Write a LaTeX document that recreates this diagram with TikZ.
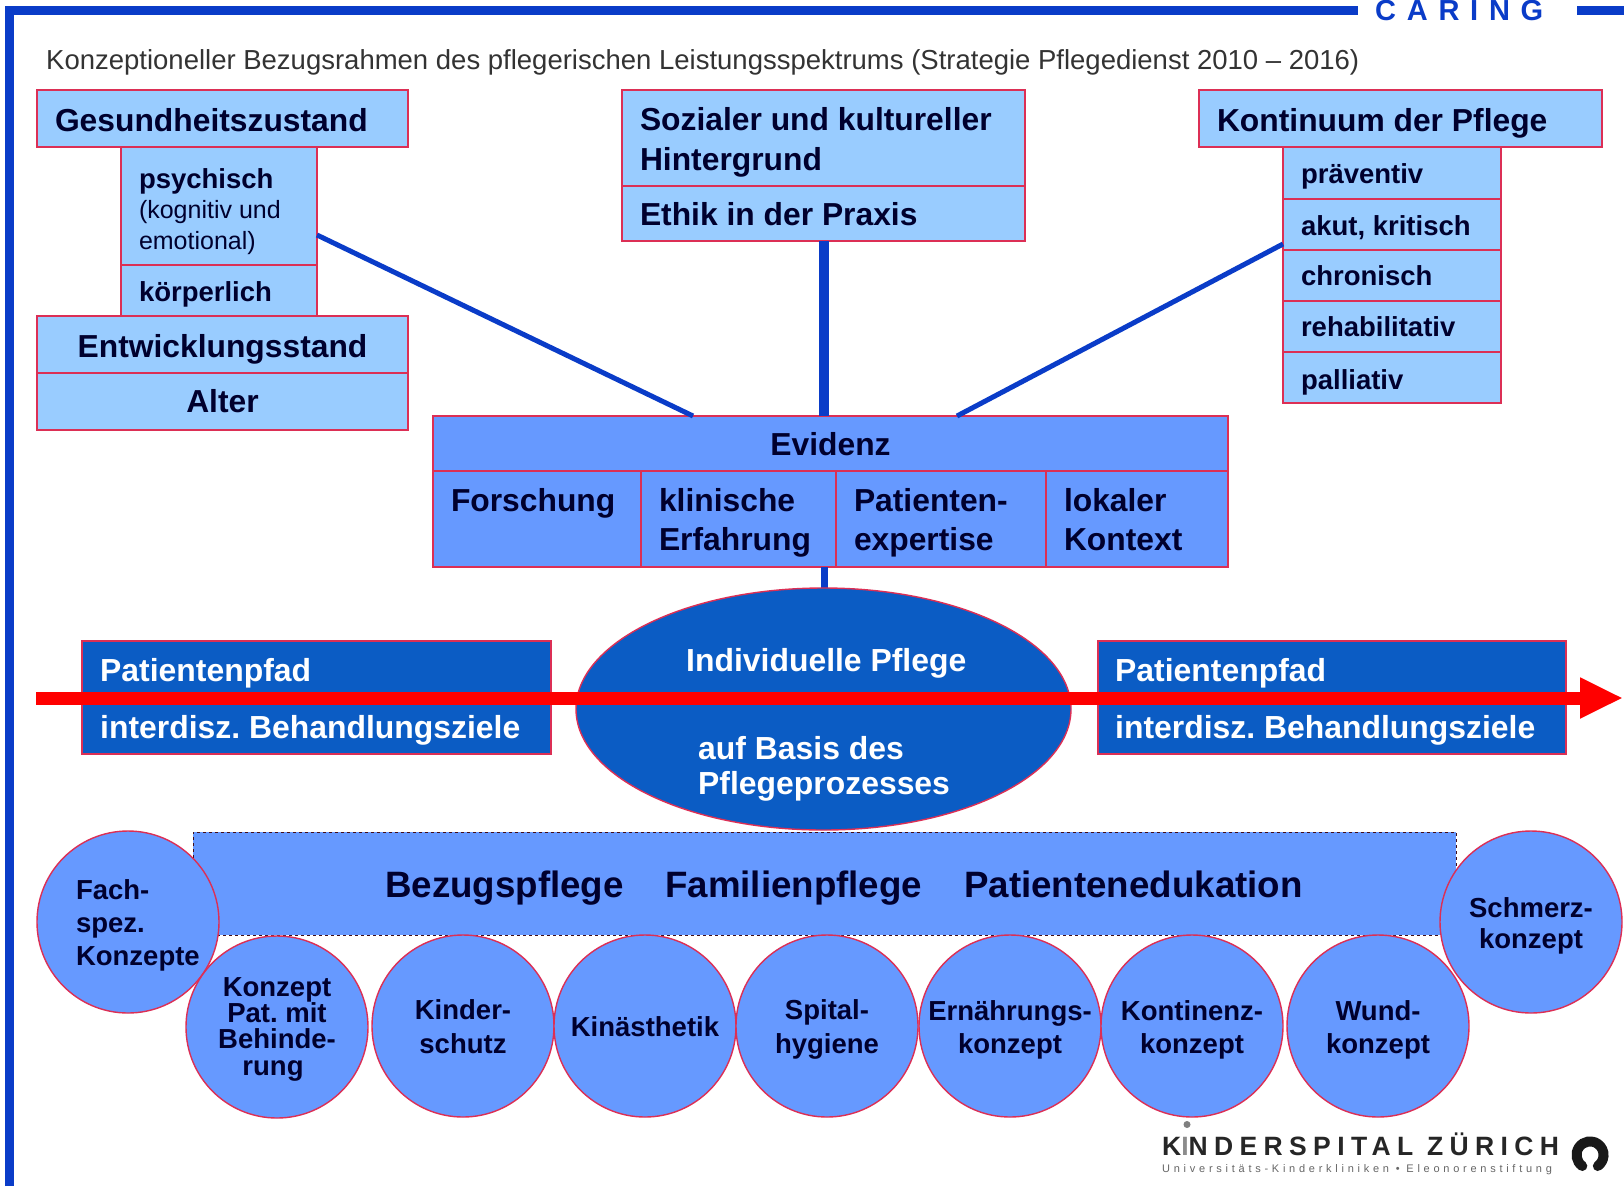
\documentclass[tikz,border=0pt]{standalone}
\usepackage{fontspec}
\setmainfont{Liberation Sans}
\usetikzlibrary{arrows.meta,shapes.geometric}
\definecolor{lightb}{HTML}{99CCFF}
\definecolor{midb}{HTML}{6699FF}
\definecolor{darkb}{HTML}{0B5CC4}
\definecolor{redl}{HTML}{DC2F55}
\definecolor{frameb}{HTML}{0A3CC8}
\definecolor{txt}{HTML}{00002E}
\frenchspacing
\newcommand{\fs}[1]{\fontsize{#1}{#1}\selectfont}
% first-line strut: baseline of first line at centre+#1, #2 = distance first to last baseline
\newcommand{\st}[2]{\rule[-7pt]{0pt}{\dimexpr 2\dimexpr #1pt\relax + #2pt + 14pt\relax}}
\newcommand{\en}{\rule[-7pt]{0pt}{0pt}}
\tikzset{
 x=1pt,y=-1pt,
 boxbase/.style={draw=redl,line width=1.4pt,align=flush left,text=txt,font=\fs{31.8}\bfseries,inner ysep=0pt},
 lightbox/.style={boxbase,fill=lightb},
 midbox/.style={boxbase,fill=midb},
 darkbox/.style={boxbase,fill=darkb},
 circ/.style={circle,draw=redl,line width=1.4pt,fill=midb,minimum size=182pt,inner sep=0pt,align=flush center,text=txt,font=\fs{27.5}\bfseries,text width=166pt},
 link/.style={draw=frameb,line width=5pt},
 whitetxt/.style={text=white,font=\fs{31.9}\bfseries,inner sep=0pt,anchor=base west},
 bandtxt/.style={text=txt,font=\fs{36.7}\bfseries,inner sep=0pt,anchor=base west},
}
\newcommand{\rb}[7]{% style,name,x1,y1,x2,y2,text; left pad 18
 \pgfmathsetmacro{\cx}{(#3+#5)/2}\pgfmathsetmacro{\cy}{(#4+#6)/2}
 \pgfmathsetmacro{\ww}{#5-#3}\pgfmathsetmacro{\hh}{#6-#4}\pgfmathsetmacro{\tw}{\ww-36}
 \node[#1,minimum width=\ww pt,minimum height=\hh pt,text width=\tw pt,inner xsep=18pt] (#2) at (\cx,\cy) {#7};
}
\begin{document}
\begin{tikzpicture}
\path[use as bounding box] (0,0) rectangle (1624,1186);
\fill[white] (0,0) rectangle (1624,1186);
% frame
\coordinate (ftl) at (9,10);
\coordinate (fbl) at (9,1186);
\coordinate (ftr) at (1358,10);
\coordinate (fr1) at (1577,10);
\coordinate (fr2) at (1624,10);
\draw[frameb,line width=9pt] (fbl) -- (ftl) -- (ftr);
\draw[frameb,line width=9pt] (fr1) -- (fr2);
\node[inner sep=0pt,anchor=base west,text=frameb,font=\fs{29}\bfseries\addfontfeatures{LetterSpace=37}] (caring) at (1375,20) {CARING};
\node[inner sep=0pt,anchor=base west,text=black!80,font=\fs{27.5}] (title) at (46,69) {Konzeptioneller Bezugsrahmen des pflegerischen Leistungsspektrums (Strategie Pflegedienst 2010 – 2016)};
% connector ends
\coordinate (cL1) at (317,235);
\coordinate (cL2) at (693,416);
\coordinate (cR1) at (1283,244);
\coordinate (cR2) at (957,416);
\coordinate (cM1) at (824,241);
\coordinate (cM2) at (824,416);
\coordinate (cE1) at (824,567);
\coordinate (cE2) at (824,590);
% left group
\rb{lightbox}{gz}{37}{90}{408}{147}{\st{12.5}{0}Gesundheitszustand}
\rb{lightbox}{psy}{121}{147}{317}{265}{\rule{0pt}{33pt}\fs{27.5}psychisch\\[4.8pt]\fs{25}\mdseries (kognitiv und\\[-1.2pt]\en\fs{25}\mdseries emotional)}
\rb{lightbox}{kor}{121}{265}{317}{316}{\st{10.5}{0}\fs{27.5}körperlich}
\rb{lightbox,align=flush center}{ent}{37}{316}{408}{373}{\st{12.5}{0}Entwicklungsstand}
\rb{lightbox,align=flush center}{alt}{37}{373}{408}{430}{\st{10.5}{0}Alter}
% middle group
\rb{lightbox}{soz}{622}{90}{1025}{186}{\st{-8}{40}Sozialer und kultureller\\[8.2pt]\en Hintergrund}
\rb{lightbox}{eth}{622}{186}{1025}{241}{\st{11.5}{0}Ethik in der Praxis}
% right group
\rb{lightbox}{kon}{1199}{90}{1602}{147}{\st{12.5}{0}Kontinuum der Pflege}
\rb{lightbox}{pra}{1283}{147}{1501}{199}{\st{10.3}{0}\fs{27.5}präventiv}
\rb{lightbox}{aku}{1283}{199}{1501}{250}{\st{11.2}{0}\fs{27.5}akut, kritisch}
\rb{lightbox}{chr}{1283}{250}{1501}{301}{\st{10.2}{0}\fs{27.5}chronisch}
\rb{lightbox}{reh}{1283}{301}{1501}{352}{\st{10.2}{0}\fs{27.5}rehabilitativ}
\rb{lightbox}{pal}{1283}{352}{1501}{403}{\st{11.5}{0}\fs{27.5}palliativ}
% evidence
\rb{midbox,align=flush center}{evi}{433}{416}{1228}{471}{\st{11.5}{0}Evidenz}
\rb{midbox}{e1}{433}{471}{641}{567}{\st{-7.3}{38.3}Forschung\\[6.5pt]\en}
\rb{midbox}{e2}{641}{471}{836}{567}{\st{-7.3}{38.3}klinische\\[6.5pt]\en Erfahrung}
\rb{midbox}{e3}{836}{471}{1046}{567}{\st{-7.3}{38.3}Patienten-\\[6.5pt]\en expertise}
\rb{midbox}{e4}{1046}{471}{1228}{567}{\st{-7.3}{38.3}lokaler\\[6.5pt]\en Kontext}
\draw[link] (cL1) -- (cL2);
\draw[link] (cR1) -- (cR2);
\draw[frameb,line width=10pt] (cM1) -- (cM2);
\draw[frameb,line width=7pt] (cE1) -- (cE2);
% pathway
\rb{darkbox}{pl}{82}{641}{551}{754}{}
\rb{darkbox}{pr}{1098}{641}{1566}{754}{}
\node[ellipse,draw=redl,line width=1.4pt,fill=darkb,minimum width=495pt,minimum height=242pt,inner sep=0pt] (ell) at (823.5,709) {};
\node[whitetxt] (p1) at (100,681) {Patientenpfad};
\node[whitetxt] (p2) at (100,738) {interdisz. Behandlungsziele};
\node[whitetxt] (p3) at (1115,681) {Patientenpfad};
\node[whitetxt] (p4) at (1115,738) {interdisz. Behandlungsziele};
\node[whitetxt] (i1) at (686,671) {Individuelle Pflege};
\node[whitetxt] (i2) at (698,759) {auf Basis des};
\node[whitetxt] (i3) at (698,794) {Pflegeprozesses};
\coordinate (arS) at (36,698);
\coordinate (arE) at (1623,698);
\draw[red,line width=13pt,-{Triangle[length=43pt,width=38pt]}] (arS) -- (arE);
% band
\node[draw=black!70!redl,dashed,line width=1pt,fill=midb,minimum width=1263pt,minimum height=103pt,inner sep=0pt] (band) at (824.5,883.5) {};
\node[bandtxt] (b1) at (385,897) {Bezugspflege};
\node[bandtxt] (b2) at (665,897) {Familienpflege};
\node[bandtxt] (b3) at (964,897) {Patientenedukation};
% circles
\node[circ,align=flush left,text width=140pt] (c0) at (128,922) {\st{-23}{66}\hspace*{18pt}Fach-\\[5.5pt]\hspace*{18pt}spez.\\[5.5pt]\en\hspace*{18pt}Konzepte};
\node[circ,text width=130pt] (c1) at (277,1027) {\st{-31}{79}Konzept\hspace*{8pt}\\[-1.17pt]Pat. mit\hspace*{8pt}\\[-1.17pt]Behinde-\hspace*{8pt}\\[-1.17pt]\en rung\hspace*{8pt}};
\node[circ] (c2) at (463,1026) {\st{-7}{34}Kinder-\\[6.5pt]\en schutz};
\node[circ] (c3) at (645,1026) {\st{10.7}{0}Kinästhetik};
\node[circ] (c4) at (827,1026) {\st{-7}{34}Spital-\\[6.5pt]\en hygiene};
\node[circ] (c5) at (1010,1026) {\st{-6}{33}Ernährungs-\\[5.5pt]\en konzept};
\node[circ] (c6) at (1192,1026) {\st{-6}{33}Kontinenz-\\[5.5pt]\en konzept};
\node[circ] (c7) at (1378,1026) {\st{-6}{33}Wund-\\[5.5pt]\en konzept};
\node[circ] (c8) at (1531,922) {\st{-5}{31}Schmerz-\\[3.5pt]\en konzept};
% logo
\node[inner sep=0pt,anchor=base west,text=black!85,font=\fs{26.5}\bfseries\addfontfeatures{LetterSpace=24}] (logo1) at (1162,1155) {K\textcolor{black!45}{I}NDERSPITAL ZÜRICH};
\node[inner sep=0pt,anchor=base west,text=black!60,font=\fs{11}\addfontfeatures{LetterSpace=34}] (logo2) at (1162,1172) {Universitäts-Kinderkliniken • Eleonorenstiftung};
\fill[black!50] (1187,1124.5) circle (3.5pt);
\draw[black!90,line width=10pt,line cap=round] (1582.3,1166) arc[start angle=125,end angle=415,radius=13.5];
\end{tikzpicture}
\end{document}
